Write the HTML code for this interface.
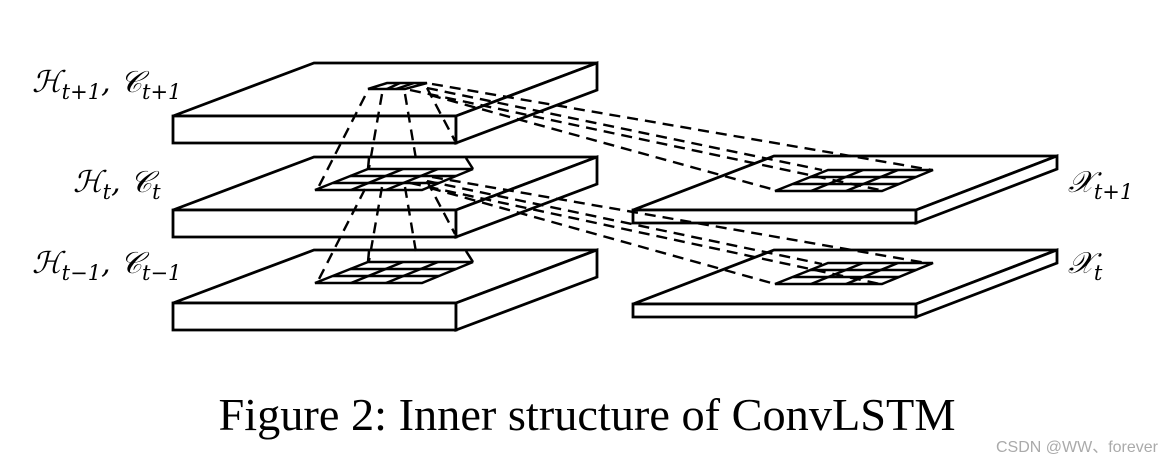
<!DOCTYPE html>
<html><head><meta charset="utf-8"><style>
html,body{margin:0;padding:0;background:#fff;}
svg{display:block}
.m{font-family:"DejaVu Serif","Liberation Serif",serif;font-size:30px;font-style:italic}
.s{font-size:21px}
</style></head><body>
<svg width="1164" height="466" viewBox="0 0 1164 466" xmlns="http://www.w3.org/2000/svg">
<g fill="#fff" stroke="#000" stroke-width="2.8" stroke-linejoin="miter">
<g>
<polygon points="314,63 597,63 456,116 173,116"/>
<polygon points="173,116 456,116 456,143 173,143"/>
<polygon points="456,116 597,63 597,90 456,143"/>
</g>
<g transform="translate(0,94)">
<polygon points="314,63 597,63 456,116 173,116"/>
<polygon points="173,116 456,116 456,143 173,143"/>
<polygon points="456,116 597,63 597,90 456,143"/>
</g>
<g transform="translate(0,187)">
<polygon points="314,63 597,63 456,116 173,116"/>
<polygon points="173,116 456,116 456,143 173,143"/>
<polygon points="456,116 597,63 597,90 456,143"/>
</g>
<g>
<polygon points="774,156 1057,156 916,210 633,210"/>
<polygon points="633,210 916,210 916,223 633,223"/>
<polygon points="916,210 1057,156 1057,169 916,223"/>
</g>
<g transform="translate(0,94)">
<polygon points="774,156 1057,156 916,210 633,210"/>
<polygon points="633,210 916,210 916,223 633,223"/>
<polygon points="916,210 1057,156 1057,169 916,223"/>
</g>
</g>
<g fill="none" stroke="#000" stroke-width="2.5">
<g id="G">
<polygon points="368,169 473,169 422,190 315,190"/>
<line x1="350" y1="176" x2="456" y2="176"/>
<line x1="333" y1="183" x2="439" y2="183"/>
<line x1="403" y1="169" x2="351" y2="190"/>
<line x1="438" y1="169" x2="386" y2="190"/>
</g>
<use href="#G" transform="translate(0,93)"/>
<use href="#G" transform="translate(460,1)"/>
<use href="#G" transform="translate(460,94)"/>
<path d="M368,169 L369,158 M473,169 L466,158"/>
<path d="M368,262 L369,251 M473,262 L466,251"/>
<polygon points="387,83 427,83 405,89 368,89"/>
<line x1="400" y1="83" x2="387" y2="89"/>
<line x1="414" y1="83" x2="396" y2="89"/>
</g>
<g fill="none" stroke="#000" stroke-width="2.4" stroke-dasharray="11,7">
<path d="M365,96 L318,188"/>
<path d="M382,94 L369,168"/>
<path d="M405,94 L417,165"/>
<path d="M427,88 L455,141"/>
<path d="M365,189 L318,281"/>
<path d="M382,187 L369,261"/>
<path d="M405,187 L417,258"/>
<path d="M427,181 L455,234"/>
<path d="M432,84 L932,170"/>
<path d="M427,88 L822,170"/>
<path d="M410,90 L880,190"/>
<path d="M430,95 L775,190"/>
<path d="M432,177 L932,264"/>
<path d="M427,181 L822,264"/>
<path d="M410,183 L880,284"/>
<path d="M430,188 L775,284"/>
</g>
<text class="m" x="32" y="92">ℋ<tspan class="s" dy="7">t+1</tspan><tspan dy="-7">, 𝒞</tspan><tspan class="s" dy="7">t+1</tspan></text>
<text class="m" x="73" y="192">ℋ<tspan class="s" dy="7">t</tspan><tspan dy="-7">, 𝒞</tspan><tspan class="s" dy="7">t</tspan></text>
<text class="m" x="32" y="273">ℋ<tspan class="s" dy="7">t−1</tspan><tspan dy="-7">, 𝒞</tspan><tspan class="s" dy="7">t−1</tspan></text>
<text class="m" x="1068" y="192">𝒳<tspan class="s" dy="7">t+1</tspan></text>
<text class="m" x="1068" y="273">𝒳<tspan class="s" dy="7">t</tspan></text>
<text x="587" y="430" text-anchor="middle" font-family="Liberation Serif,serif" font-size="46" textLength="737" lengthAdjust="spacingAndGlyphs">Figure 2: Inner structure of ConvLSTM</text>
<text x="1158" y="452" text-anchor="end" font-family="Liberation Sans,'Noto Sans CJK SC',sans-serif" font-size="16" fill="#aaa">CSDN @WW、forever</text>
</svg>
</body></html>
